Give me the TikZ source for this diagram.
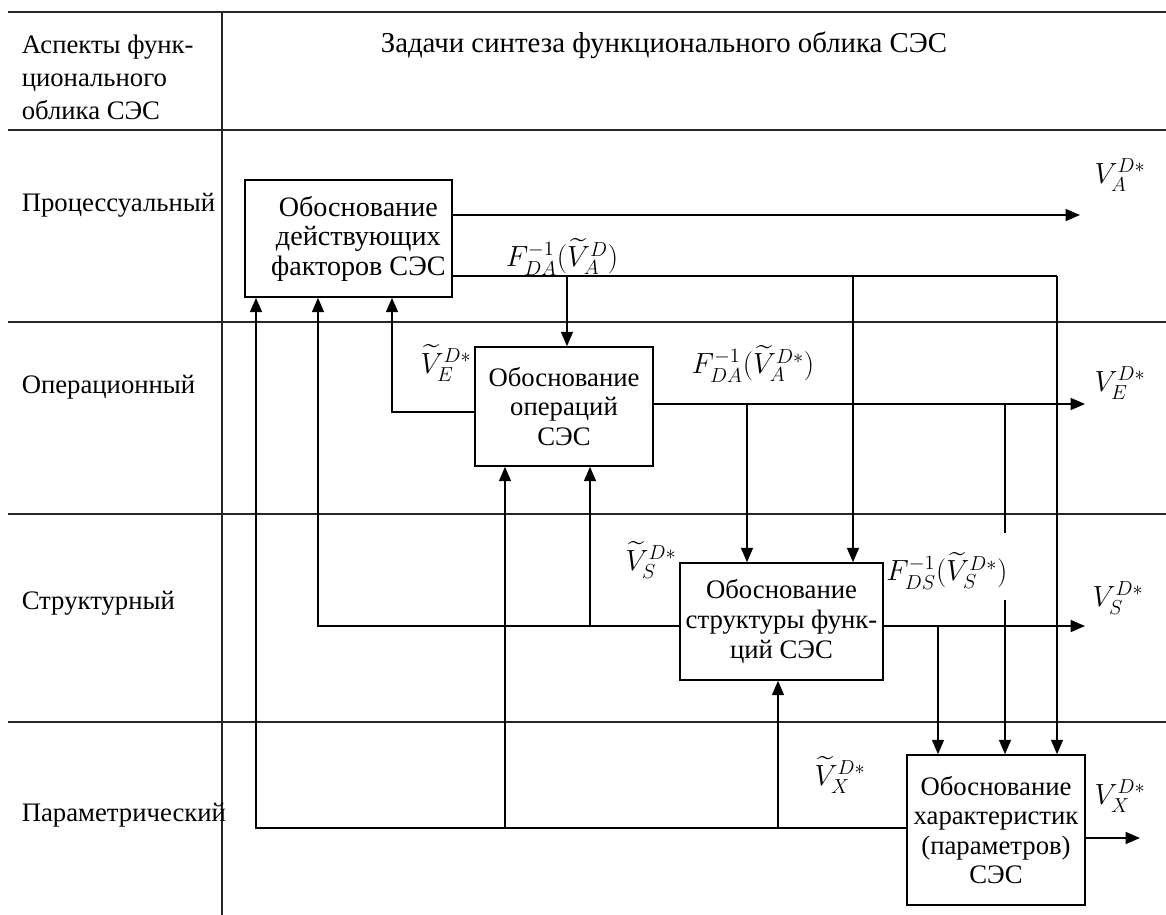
\documentclass[tikz,border=0pt]{standalone}
\usepackage{amsmath}
\usepackage{fontspec}
\setmainfont{Liberation Serif}
\usepackage{tikz}
\usetikzlibrary{calc}
\usetikzlibrary{arrows.meta}
\tikzset{>={Triangle[length=3.6mm,width=3mm]}}

\begin{document}
\begin{tikzpicture}[x=0.025cm,y=-0.025cm,line width=1.1pt,
                    box/.style={draw, align=center, inner sep=0pt,
                        font=\fontsize{19}{21}\selectfont},
                    txt/.style={inner sep=0pt, font=\fontsize{19}{23.5}\selectfont},
                    mth/.style={inner sep=0pt, font=\fontsize{19.5}{21}\selectfont},
                    grid/.style={line width=1.1pt, black!85}]
                    \useasboundingbox (0,0) rectangle (1166,915);
                    % table
                    \draw[grid] (8,12) -- (1166,12);
                    \foreach \y in {130,322,514,722}
                        \draw[grid] (8,\y) -- (1166,\y);
                    \draw[grid] (222,12) -- (222,915);

                    \node[txt, align=left, anchor=west] (asp) at (21,77) {Аспекты функ-\\ционального\\облика СЭС};
                    \node[txt, font=\fontsize{20.5}{23.5}\selectfont] (zad) at (664,45) {Задачи синтеза функционального облика СЭС};
                    \node[txt, anchor=west] (proc) at (21,205) {Процессуальный};
                    \node[txt, anchor=west] (oper) at (21,387) {Операционный};
                    \node[txt, anchor=west] (strk) at (21,603) {Структурный};
                    \node[txt, anchor=west] (param) at (21,815) {Параметрический};

                    % boxes
                    \node[box, minimum width=5.175cm, minimum height=2.925cm, font=\fontsize{20}{21}\selectfont] (A) at (348.5,238.5) {\hspace*{14pt}Обоснование\\\hspace*{14pt}действующих\\\hspace*{14pt}факторов СЭС};
                    \node[box, minimum width=4.45cm, minimum height=2.975cm] (E) at (564,406.5) {Обоснование\\операций\\СЭС};
                    \node[box, minimum width=5.075cm, minimum height=2.925cm] (S) at (781.5,621.5) {Обоснование\\структуры функ-\\ций СЭС};
                    \node[box, minimum width=4.45cm, minimum height=3.75cm] (X) at (996,830) {Обоснование\\характеристик\\(параметров)\\СЭС};

                    % A outputs
                    \coordinate (vA) at (1080,215);
                    \draw[->] (A.east |- vA) -- (vA);
                    \coordinate (fA) at (1057,276);
                    \coordinate (jA1) at (567,276);
                    \coordinate (jA2) at (853,276);
                    \draw (A.east |- fA) -- (fA);
                    \draw[->] (fA) -- (X.north -| fA);
                    \draw[->] (jA1) -- (E.north -| jA1);
                    \draw[->] (jA2) -- (S.north -| jA2);

                    % E outputs
                    \coordinate (vE) at (1085,404);
                    \coordinate (jE1) at (747,404);
                    \coordinate (jE2) at (1005,404);
                    \coordinate (gap1) at (1005,533);
                    \coordinate (gap2) at (1005,600);
                    \draw[->] (E.east |- vE) -- (vE);
                    \draw[->] (jE1) -- (S.north -| jE1);
                    \draw (jE2) -- (gap1);
                    \draw[->] (gap2) -- (X.north -| gap2);
                    \coordinate (kE) at (392,412);
                    \draw[->] (E.west |- kE) -- (kE) -- (A.south -| kE);

                    % S outputs
                    \coordinate (vS) at (1085,626);
                    \coordinate (jS) at (938,626);
                    \draw[->] (S.east |- vS) -- (vS);
                    \draw[->] (jS) -- (X.north -| jS);
                    \coordinate (kS) at (318,626);
                    \coordinate (mS) at (590,626);
                    \draw[->] (S.west |- kS) -- (kS) -- (A.south -| kS);
                    \draw[->] (mS) -- (E.south -| mS);

                    % X outputs
                    \coordinate (kX) at (256,828);
                    \coordinate (mX1) at (505,828);
                    \coordinate (mX2) at (778,828);
                    \draw[->] (X.west |- kX) -- (kX) -- (A.south -| kX);
                    \draw[->] (mX1) -- (E.south -| mX1);
                    \draw[->] (mX2) -- (S.south -| mX2);
                    \coordinate (vX) at (1140,838);
                    \draw[->] (X.east |- vX) -- (vX);

                    % labels
                    \node[mth] (lvA) at (1120,175) {$V_A^{D*}$};
                    \node[mth] (lfA) at (562,257) {$F_{DA}^{-1}(\widetilde{V}_A^{D})$};
                    \node[mth] (ltE) at (446,363) {$\widetilde{V}_E^{D*}$};
                    \node[mth] (lfE) at (753,364) {$F_{DA}^{-1}(\widetilde{V}_A^{D*})$};
                    \node[mth] (lvE) at (1120,383) {$V_E^{D*}$};
                    \node[mth] (ltS) at (651,560) {$\widetilde{V}_S^{D*}$};
                    \node[mth] (lfS) at (947,571) {$F_{DS}^{-1}(\widetilde{V}_S^{D*})$};
                    \node[mth] (lvS) at (1118,598) {$V_S^{D*}$};
                    \node[mth] (ltX) at (840,775) {$\widetilde{V}_X^{D*}$};
                    \node[mth] (lvX) at (1120,796) {$V_X^{D*}$};
\end{tikzpicture}
\end{document}
